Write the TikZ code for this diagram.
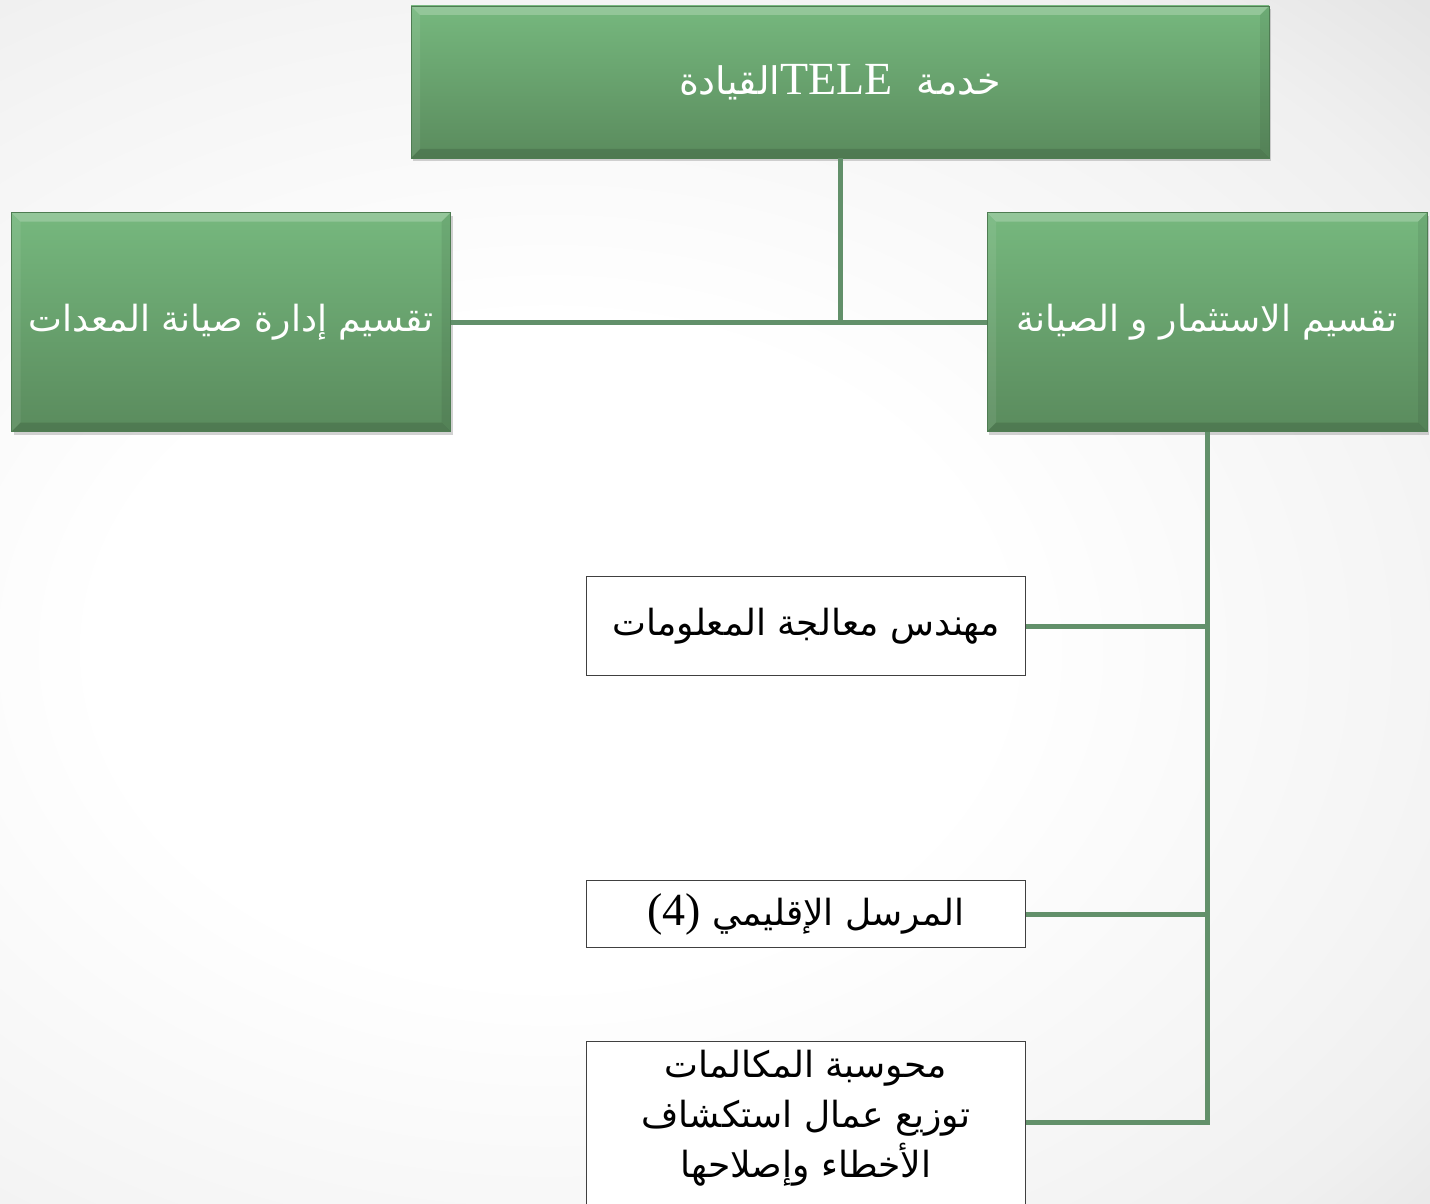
\documentclass[tikz,border=0pt]{standalone}
\usepackage{fontspec}
\setmainfont{Liberation Serif}
\newfontfamily\arabicfont[Script=Arabic]{DejaVu Sans}
\TeXXeTstate=1
\usetikzlibrary{shadows}
\definecolor{unittop}{HTML}{76B87E}
\definecolor{unitbot}{HTML}{5A8B5D}
\definecolor{unitedge}{HTML}{4E7C52}
\definecolor{linkgreen}{HTML}{62906A}
\def\artext#1{{\arabicfont\beginR #1\endR}}
\pgfdeclareradialshading{slidebg}{\pgfpoint{0bp}{0bp}}{color(0bp)=(white); color(7.5bp)=(white);
  color(14.5bp)=(black!4); color(17.5bp)=(black!6); color(20.5bp)=(black!10); color(25bp)=(black!12); color(50bp)=(black!12)}

\begin{document}
\begin{tikzpicture}[x=1pt,y=-1pt,
  unit/.style={draw=unitedge, top color=unittop, bottom color=unitbot, text=white,
    inner sep=0pt, drop shadow={shadow xshift=2pt, shadow yshift=-3pt, opacity=0.35},
    font=\fontsize{36}{40}\selectfont, path picture={
      \fill[white, opacity=0.22] (path picture bounding box.north west) -- (path picture bounding box.north east)
        -- ([shift={(-9pt,-9pt)}]path picture bounding box.north east) -- ([shift={(9pt,-9pt)}]path picture bounding box.north west) -- cycle;
      \fill[white, opacity=0.08] (path picture bounding box.north west) -- ([shift={(9pt,-9pt)}]path picture bounding box.north west)
        -- ([shift={(9pt,9pt)}]path picture bounding box.south west) -- (path picture bounding box.south west) -- cycle;
      \fill[black, opacity=0.12] (path picture bounding box.south west) -- (path picture bounding box.south east)
        -- ([shift={(-9pt,9pt)}]path picture bounding box.south east) -- ([shift={(9pt,9pt)}]path picture bounding box.south west) -- cycle;
      \fill[black, opacity=0.07] (path picture bounding box.north east) -- ([shift={(-9pt,-9pt)}]path picture bounding box.north east)
        -- ([shift={(-9pt,9pt)}]path picture bounding box.south east) -- (path picture bounding box.south east) -- cycle;}},
  post/.style={draw=black!75, fill=white, text=black, minimum width=439pt, inner sep=0pt,
    align=center, font=\fontsize{36}{50}\selectfont},
  link/.style={draw=linkgreen, line width=5pt}]
\clip (0,0) rectangle (1430,1204);
\shade[shading=slidebg] (-950,-450) rectangle (2050,1750);
% heads of service
\node[unit, minimum width=858pt, minimum height=152pt] (head) at (840,82)
  {\artext{\fontsize{38}{44}\selectfont خدمة \ \beginL{\rmfamily\fontsize{46}{50}\selectfont TELE}\endL القيادة}};
\node[unit, minimum width=439pt, minimum height=219pt] (equip) at (231,322)
  {\artext{تقسيم إدارة صيانة المعدات}};
\node[unit, minimum width=440pt, minimum height=219pt] (maint) at (1207,322)
  {\artext{تقسيم الاستثمار و الصيانة}};
% staff
\node[post, minimum height=99pt] (eng) at (806,626)
  {\artext{مهندس معالجة المعلومات}};
\node[post, minimum height=67pt] (relay) at (806,914)
  {\artext{المرسل الإقليمي \beginL{\rmfamily\fontsize{46}{50}\selectfont(4)}\endL}};
\node[post, inner ysep=9pt, anchor=north] (calls) at (806,1041)
  {\artext{محوسبة المكالمات}\\ \artext{توزيع عمال استكشاف}\\ \artext{الأخطاء وإصلاحها}\rule[-60pt]{0pt}{0pt}};
\draw[link] (head.south) -- (head.south |- equip.east);
\draw[link] (equip.east) -- (maint.west);
\draw[link] (maint.south) -- (maint.south |- 0,1122) -- (calls.east |- 0,1122);
\draw[link] (eng.east) -- (eng.east -| maint.south);
\draw[link] (relay.east) -- (relay.east -| maint.south);
\end{tikzpicture}
\end{document}
